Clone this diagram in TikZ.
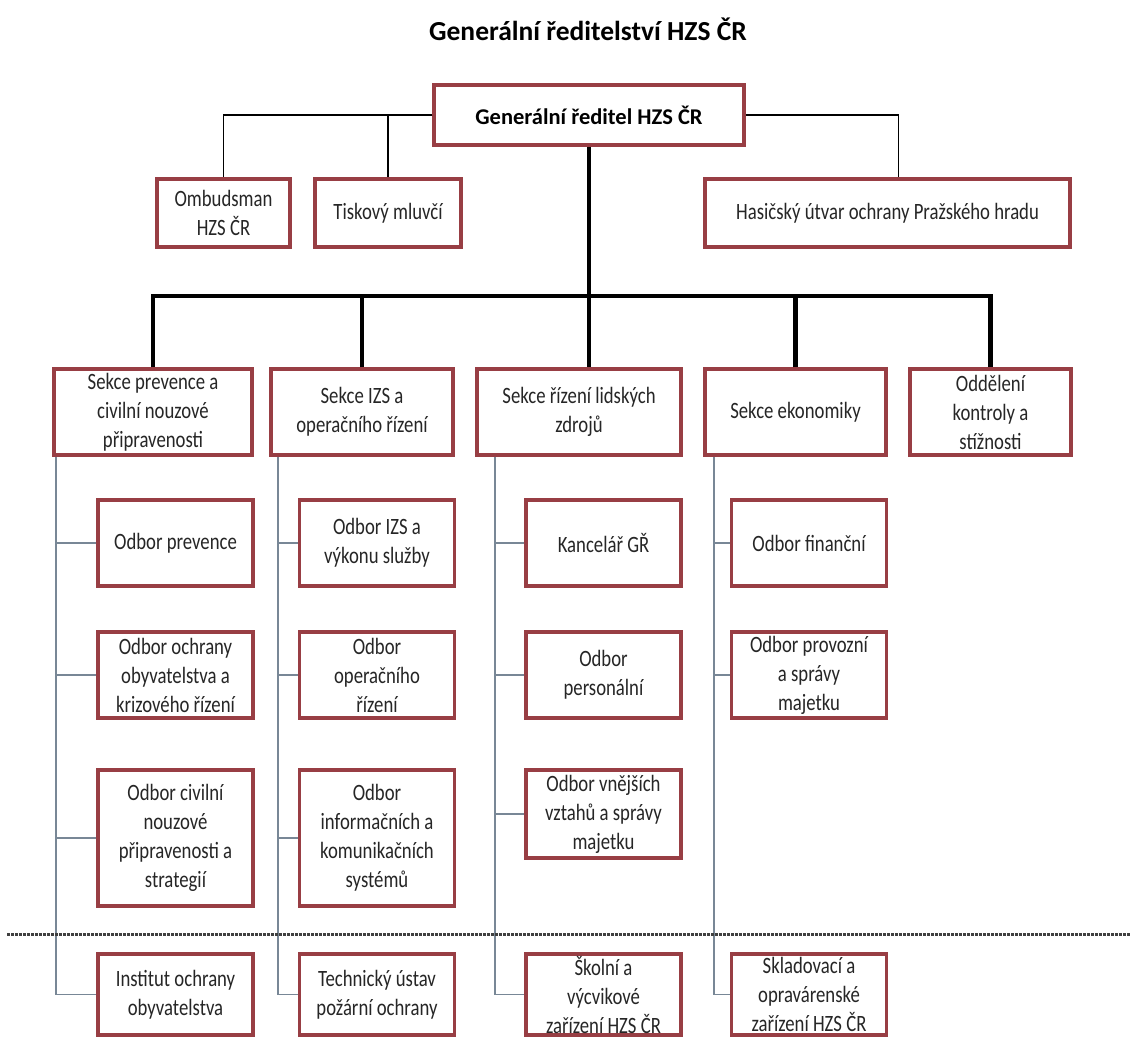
\documentclass[tikz,border=0pt]{standalone}
\usepackage{fontspec}
\setmainfont{Carlito}
\newfontfamily\narrowfont{Carlito}[FakeStretch=0.8]
\definecolor{boxred}{RGB}{152,62,68}
\definecolor{linkgrey}{RGB}{120,135,150}

\tikzset{
    orgbox/.style={draw=boxred, line width=3.5pt, fill=white, align=center, inner sep=1pt,
        text=black!85, font=\narrowfont\fontsize{23.4}{29}\selectfont},
    boxsize/.style 2 args={minimum width=#1, minimum height=#2},
    toplink/.style={line width=1.8pt, black},
    buslink/.style={line width=4.5pt, black},
    sublink/.style={line width=1.6pt, linkgrey},
    separator/.style={line width=3pt, black!75, dash pattern=on 2.5pt off 1.5pt},
}

\begin{document}
\begin{tikzpicture}[x=1pt, y=-1pt]
    \useasboundingbox (0,0) rectangle (1130,1039);
    \node[font=\bfseries\fontsize{27.5}{33}\selectfont] (title) at (588,29) {Generální ředitelství HZS ČR};
    \node[orgbox, boxsize={310}{60}, text=black, font=\bfseries\fontsize{22.5}{27}\selectfont] (gr) at (589,115) {Generální ředitel HZS ČR};
    \node[orgbox, boxsize={133}{68}] (omb) at (223.5,213) {Ombudsman\\HZS ČR};
    \node[orgbox, boxsize={146}{68}] (tisk) at (388,213) {Tiskový mluvčí};
    \node[orgbox, boxsize={365}{68}] (has) at (887.5,213) {Hasičský útvar ochrany Pražského hradu};
    \foreach \myname/\myx/\myw/\mytext in {s1/153/198/{Sekce prevence a\\civilní nouzové\\připravenosti},
        s2/362/182/{Sekce IZS a\\operačního řízení}, s3/579/204/{Sekce řízení lidských\\zdrojů},
        s4/795.5/181/{Sekce ekonomiky}, s5/990.5/161/{Oddělení\\kontroly a\\stížnosti}}{
        \node[orgbox, boxsize={\myw}{86}] (\myname) at (\myx,412) {\mytext};
    }
    \foreach \myname/\myx/\myy/\myh/\mytext in {a1/175.5/543/86/{Odbor prevence},
        a2/175.5/675/86/{Odbor ochrany\\obyvatelstva a\\krizového řízení},
        a3/175.5/838/136/{Odbor civilní\\nouzové\\připravenosti a\\strategií},
        a4/175.5/994.5/81/{Institut ochrany\\obyvatelstva},
        b1/377/543/86/{Odbor IZS a\\výkonu služby}, b2/377/675/86/{Odbor\\operačního\\řízení},
        b3/377/838/136/{Odbor\\informačních a\\komunikačních\\systémů},
        b4/377/994.5/81/{Technický ústav\\požární ochrany},
        c1/603.5/543/86/{Kancelář GŘ}, c2/603.5/675/86/{Odbor\\personální},
        c3/603.5/814/88/{Odbor vnějších\\vztahů a správy\\majetku},
        c4/603.5/994.5/81/{Školní a\\výcvikové\\zařízení HZS ČR},
        d1/809/543/86/{Odbor finanční}, d2/809/675/86/{Odbor provozní\\a správy\\majetku},
        d4/809/994.5/81/{Skladovací a\\opravárenské\\zařízení HZS ČR}}{
        \node[orgbox, boxsize={155}{\myh}] (\myname) at (\myx,\myy) {\mytext};
    }
    \draw[toplink] (gr.west) -| (omb.north);
    \draw[toplink] (gr.west) -| (tisk.north);
    \draw[toplink] (gr.east) -| ([xshift=11pt]has.north);
    \coordinate (bus) at (589,296);
    \draw[buslink] (gr.south) -- (gr.south |- s3.north);
    \draw[buslink] (s1.north) |- (bus) -| (s5.north);
    \foreach \myname in {s2,s4}{
        \draw[buslink] (\myname.north) -- (\myname.north |- bus);
    }
    \coordinate (sp1) at ([xshift=4pt]s1.south west);
    \coordinate (sp2) at ([xshift=9pt]s2.south west);
    \coordinate (sp3) at ([xshift=20pt]s3.south west);
    \coordinate (sp4) at ([xshift=11pt]s4.south west);
    \foreach \mysp/\mycol in {sp1/a, sp2/b, sp3/c, sp4/d}{
        \draw[sublink] (\mysp) |- (\mycol4.west);
    }
    \foreach \myname/\mysp in {a1/sp1, a2/sp1, a3/sp1, b1/sp2, b2/sp2, b3/sp2, c1/sp3, c2/sp3, c3/sp3, d1/sp4, d2/sp4}{
        \draw[sublink] (\myname.west) -- (\myname.west -| \mysp);
    }
    \draw[separator] (7,934) -- (1130,934);
\end{tikzpicture}
\end{document}
